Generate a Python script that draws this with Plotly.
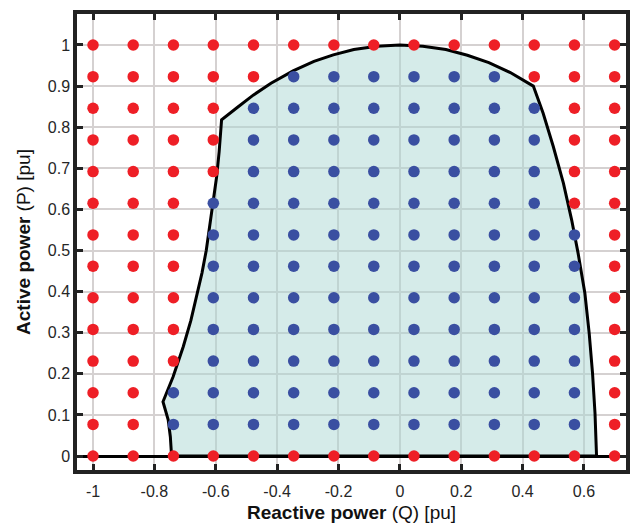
import plotly.graph_objects as go

# Operating-point grid (reactive power Q, active power P) in pu
q_values = [-1.000, -0.869, -0.738, -0.608, -0.477, -0.346, -0.215,
            -0.085, 0.046, 0.177, 0.308, 0.438, 0.569, 0.700]
p_values = [0.000, 0.077, 0.154, 0.231, 0.308, 0.385, 0.462,
            0.538, 0.615, 0.692, 0.769, 0.846, 0.923, 1.000]

# Feasibility of each grid point, one string per P row (bottom to top),
# one character per Q column: 1 = feasible, 0 = infeasible
feasible_rows = [
    "00000000000000",
    "00111111111110",
    "00111111111110",
    "00011111111110",
    "00011111111110",
    "00011111111110",
    "00011111111110",
    "00011111111110",
    "00011111111100",
    "00001111111100",
    "00001111111100",
    "00001111111100",
    "00000111111000",
    "00000000000000",
]

# Capability boundary (PQ chart outline)
boundary_q = [-0.744, -0.748, -0.755, -0.772, -0.739, -0.706, -0.681, -0.662,
              -0.645, -0.631, -0.619, -0.607, -0.597, -0.589, -0.581,
              -0.530, -0.478, -0.420, -0.348, -0.280, -0.217, -0.150, -0.075,
              0.000, 0.075, 0.150, 0.220, 0.290, 0.360, 0.435,
              0.467, 0.500, 0.533, 0.560, 0.581, 0.603, 0.617, 0.628, 0.636,
              0.641, -0.744]
boundary_p = [0.000, 0.047, 0.088, 0.132, 0.193, 0.266, 0.330, 0.390,
              0.445, 0.500, 0.560, 0.620, 0.680, 0.740, 0.818,
              0.848, 0.878, 0.907, 0.937, 0.960, 0.976, 0.989, 0.997,
              1.000, 0.997, 0.989, 0.975, 0.957, 0.933, 0.900,
              0.834, 0.753, 0.664, 0.574, 0.493, 0.396, 0.299, 0.201, 0.104,
              0.000, 0.000]

x_tickvals = [-1, -0.8, -0.6, -0.4, -0.2, 0, 0.2, 0.4, 0.6]
x_ticktext = ["-1", "-0.8", "-0.6", "-0.4", "-0.2", "0", "0.2", "0.4", "0.6"]
y_tickvals = [0, 0.1, 0.2, 0.3, 0.4, 0.5, 0.6, 0.7, 0.8, 0.9, 1]
y_ticktext = ["0", "0.1", "0.2", "0.3", "0.4", "0.5", "0.6", "0.7", "0.8", "0.9", "1"]

RED = "#ee1f26"
BLUE = "#3a4fa1"
FONT = "Liberation Sans"

in_q, in_p, out_q, out_p = [], [], [], []
for p, row in zip(p_values, feasible_rows):
    for q, flag in zip(q_values, row):
        if flag == "1":
            in_q.append(q)
            in_p.append(p)
        else:
            out_q.append(q)
            out_p.append(p)

fig = go.Figure()
fig.add_trace(go.Scatter(
    x=boundary_q, y=boundary_p, mode="lines", fill="toself",
    fillcolor="rgba(172,216,212,0.5)",
    line=dict(color="black", width=3), hoverinfo="skip",
))
fig.add_trace(go.Scatter(
    x=out_q, y=out_p, mode="markers",
    marker=dict(color=RED, size=11.5, line=dict(width=0)),
))
fig.add_trace(go.Scatter(
    x=in_q, y=in_p, mode="markers",
    marker=dict(color=BLUE, size=11.5, line=dict(width=0)),
))

axis_common = dict(
    showline=True, linecolor="#222222", linewidth=3.5, mirror="ticks",
    ticks="inside", ticklen=6, tickwidth=3, tickcolor="#222222",
    showgrid=True, gridcolor="#d5d1d1", gridwidth=2,
    tickfont=dict(family=FONT, size=16, color="#262626"),
    automargin=False,
)

fig.update_layout(
    width=634, height=523,
    margin=dict(l=77, r=8, t=14, b=53),
    paper_bgcolor="white", plot_bgcolor="white",
    showlegend=False,
    xaxis=dict(
        range=[-1.0522, 0.737], tickvals=x_tickvals, ticktext=x_ticktext,
        zeroline=False, ticklabelstandoff=4,
        title=dict(text="<b>Reactive power</b> (Q) [pu]",
                   font=dict(family=FONT, size=19, color="#111111"),
                   standoff=8),
        **axis_common,
    ),
    yaxis=dict(
        range=[-0.034, 1.0754], tickvals=y_tickvals, ticktext=y_ticktext,
        zeroline=True, zerolinecolor="black", zerolinewidth=2.6,
        title=dict(text="<b>Active power</b> (P) [pu]",
                   font=dict(family=FONT, size=19, color="#111111"),
                   standoff=13),
        **axis_common,
    ),
)

fig.write_html("out.html")
